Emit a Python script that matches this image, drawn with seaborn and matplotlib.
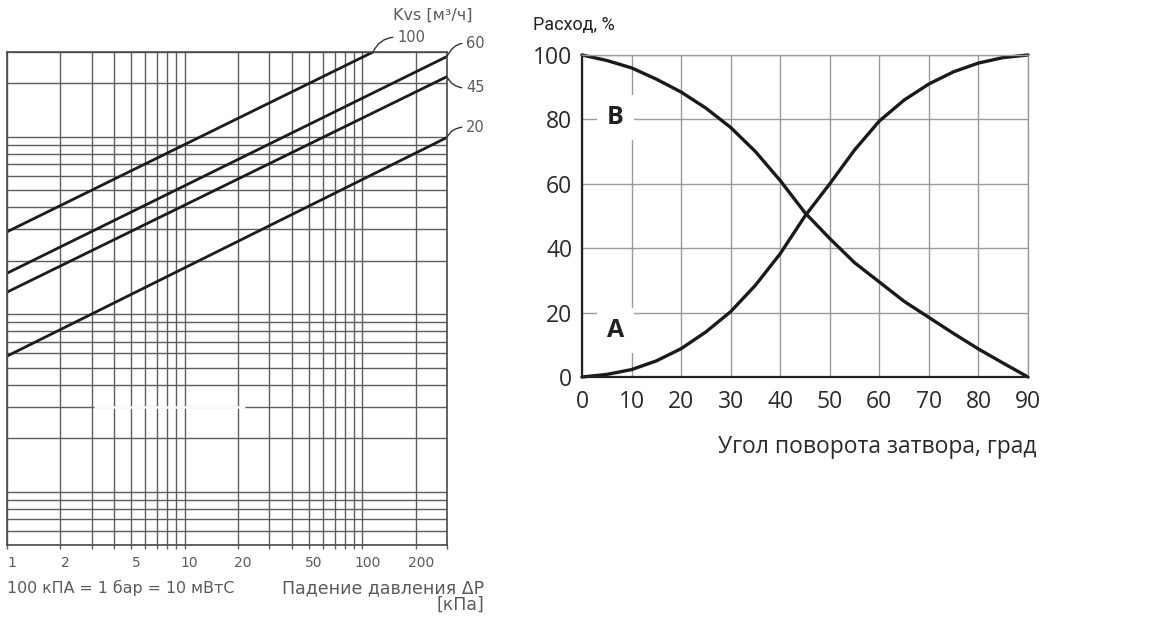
import numpy as np
import pandas as pd
import matplotlib
matplotlib.use("Agg")
import matplotlib.pyplot as plt
import matplotlib.ticker as mticker
import matplotlib.transforms as mtrans
import seaborn as sns

# left chart: flow vs pressure drop, one straight (log-log) line per Kvs
kvs_values = [100, 60, 45, 20]
dp_start = [1, 1, 1, 1]
dp_end = [115, 300, 300, 300]
flow_start = [29.1, 17.0, 13.3, 5.8]
flow_end = [300, 283, 218, 99]
dp_ticks = [1, 2, 5, 10, 20, 50, 100, 200]

# right chart: valve characteristics A and B
angles = [0, 5, 10, 15, 20, 25, 30, 35, 40, 45, 50, 55, 60, 65, 70, 75, 80, 85, 90]
curve_a = [0, 0.8, 2.3, 5, 8.8, 14, 20.3, 28.5, 38.3, 50, 60, 70.5, 79.5, 86, 91, 94.8, 97.5, 99.2, 100]
curve_b = [100, 98.3, 96, 92.5, 88.5, 83.5, 77.5, 70, 61, 51, 43, 35.5, 29.5, 23.5, 18.5, 13.5, 8.7, 4.3, 0]
angle_ticks = [0, 10, 20, 30, 40, 50, 60, 70, 80, 90]
flow_ticks = [0, 20, 40, 60, 80, 100]

sns.set_theme(style="whitegrid")
plt.rcParams['font.family'] = ['DejaVu Sans']
RFONT = ['Open Sans', 'DejaVu Sans']

W, H = 1149, 619
fig = plt.figure(figsize=(W / 100, H / 100), dpi=100)


def fx(x):
    return x / W


def fy(y):
    return 1 - y / H


##################################################### LEFT #####################################################
ax1 = fig.add_axes([fx(7), fy(545), 440 / W, 493 / H])

rows = []
for k, d0, d1, q0, q1 in zip(kvs_values, dp_start, dp_end, flow_start, flow_end):
    rows.append({'kvs': k, 'dp': d0, 'flow': q0})
    rows.append({'kvs': k, 'dp': d1, 'flow': q1})
lines_df = pd.DataFrame(rows)

sns.lineplot(data=lines_df, x='dp', y='flow', units='kvs', estimator=None,
             color='#1c1c1c', lw=2.0, ax=ax1)
ax1.set_xscale('log')
ax1.set_yscale('log')
ax1.set_xlim(1, 300)
ax1.set_ylim(0.5, 300)

grid_col = '#5e5e5e'
txt_col = '#5a5a5a'
ax1.set_xticks(dp_ticks)
ax1.set_xticklabels([str(t) for t in dp_ticks])
ax1.xaxis.set_minor_locator(mticker.LogLocator(base=10, subs=np.arange(1, 10), numticks=50))
ax1.xaxis.set_minor_formatter(mticker.NullFormatter())
ax1.yaxis.set_major_locator(mticker.LogLocator(base=10, subs=(1.0,), numticks=20))
ax1.yaxis.set_minor_locator(mticker.LogLocator(base=10, subs=np.arange(1, 10), numticks=50))
ax1.yaxis.set_major_formatter(mticker.NullFormatter())
ax1.yaxis.set_minor_formatter(mticker.NullFormatter())
ax1.grid(which='both', color=grid_col, lw=1.0)
ax1.tick_params(axis='x', which='both', bottom=True, direction='out', length=3,
                width=1, color=grid_col, pad=5, labelsize=10, labelcolor=txt_col)
ax1.tick_params(axis='y', which='both', length=0)
# the scanned labels sit a little to the right of their grid lines
shift = mtrans.ScaledTranslation(5 / 100, 0, fig.dpi_scale_trans)
for lab in ax1.get_xticklabels():
    lab.set_transform(lab.get_transform() + shift)
for s in ax1.spines.values():
    s.set_color('#4a4a4a')
    s.set_linewidth(1.2)
ax1.set_xlabel('')
ax1.set_ylabel('')
# scan artefact: part of one grid line is missing
ax1.hlines(3, 3.1, 22, color='white', lw=1.8, zorder=0.6)

# Kvs labels with small leader hooks
label_pos = {100: (397, 37), 60: (466, 43), 45: (466, 88), 20: (466, 127)}
label_ang = {100: 65, 60: 65, 45: -65, 20: 65}
for k, d1, q1 in zip(kvs_values, dp_end, flow_end):
    lx, ly = label_pos[k]
    ax1.annotate(str(k), xy=(d1, q1), xycoords='data',
                 xytext=(lx, H - ly), textcoords='figure pixels',
                 ha='left', va='center', fontsize=10.5, color=txt_col,
                 annotation_clip=False,
                 arrowprops=dict(arrowstyle='-', color='#333333', lw=1.0,
                                 shrinkA=3, shrinkB=0, relpos=(0, 0.5), patchA=None,
                                 connectionstyle=f'angle3,angleA=0,angleB={label_ang[k]}'))

fig.text(fx(393), fy(15), 'Kvs [м³/ч]', ha='left', va='center', fontsize=11.5, color=txt_col)
fig.text(fx(7), fy(588), '100 кПА = 1 бар = 10 мВтС', ha='left', va='center', fontsize=11.4, color=txt_col)
fig.text(fx(484), fy(588), 'Падение давления ΔP', ha='right', va='center', fontsize=12.5, color=txt_col)
fig.text(fx(484), fy(605), '[кПа]', ha='right', va='center', fontsize=12.5, color=txt_col)

##################################################### RIGHT #####################################################
ax2 = fig.add_axes([fx(582), fy(377), 446 / W, 322 / H])

curves_df = pd.DataFrame({
    'angle': angles + angles,
    'flow': curve_a + curve_b,
    'curve': ['A'] * len(angles) + ['B'] * len(angles),
})
sns.lineplot(data=curves_df, x='angle', y='flow', units='curve', estimator=None,
             color='#1a1a1a', lw=2.4, ax=ax2)
for ln in ax2.lines:
    ln.set_clip_on(False)
    ln.set_solid_capstyle('round')

ax2.set_xlim(0, 90)
ax2.set_ylim(0, 100)
ax2.set_xticks(angle_ticks)
ax2.set_yticks(flow_ticks)
ax2.grid(True, color='#9a9a9a', lw=1.0)
ax2.tick_params(axis='both', length=0, labelsize=16.5, labelcolor='#2a2a2a')
ax2.tick_params(axis='x', pad=9)
ax2.tick_params(axis='y', pad=7)
for lab in ax2.get_xticklabels() + ax2.get_yticklabels():
    lab.set_fontfamily(RFONT)
for side in ['left', 'bottom']:
    ax2.spines[side].set_color('#222222')
    ax2.spines[side].set_linewidth(1.6)
for side in ['top', 'right']:
    ax2.spines[side].set_color('#9a9a9a')
    ax2.spines[side].set_linewidth(1.0)
ax2.set_xlabel('')
ax2.set_ylabel('')

box = dict(facecolor='white', edgecolor='none', boxstyle='square,pad=0.4')
ax2.text(6.7, 80.5, 'B', ha='center', va='center', fontsize=18, fontweight='bold',
         color='#222222', family=RFONT, bbox=box)
ax2.text(6.8, 14.5, 'A', ha='center', va='center', fontsize=18, fontweight='bold',
         color='#222222', family=RFONT, bbox=box)

fig.text(fx(533), fy(25), 'Расход, %', ha='left', va='center', fontsize=13,
         color='#222222', family=['Roboto', 'DejaVu Sans'])
fig.text(fx(1037), fy(447), 'Угол поворота затвора, град', ha='right', va='center',
         fontsize=16.5, color='#2a2a2a', family=RFONT)

fig.savefig('out.png', dpi=100)
